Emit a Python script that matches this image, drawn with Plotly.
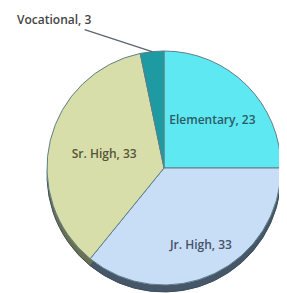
import math
import plotly.graph_objects as go

labels = ["Elementary", "Jr. High", "Sr. High", "Vocational"]
values = [23, 33, 33, 3]
colors = ["#5EE8F2", "#C8DDF6", "#D8DEAA", "#1E9BA2"]
rim_colors = ["#3A8C95", "#46576A", "#6B7050", "#14666B"]
text_colors = ["#2E5A66", "#45526A", "#55553A", "#444444"]
inside_text = ["Elementary, 23", "", "Sr. High, 33", ""]
jr_label = "Jr. High, 33"
outside_label = "Vocational, 3"

# page body has an 8px margin, so draw into a slightly smaller canvas
OFF = 8
W, H = 287 - OFF, 293 - OFF
cx, cy, R = 164 - OFF, 168 - OFF, 117
rim = 7

dom_x = [(cx - R) / W, (cx + R) / W]
dom_y = [(H - cy - R) / H, (H - cy + R) / H]
dom_y_rim = [(H - cy - rim - R) / H, (H - cy - rim + R) / H]

FONT = "Open Sans, DejaVu Sans, sans-serif"

fig = go.Figure()
fig.add_trace(go.Pie(
    labels=labels, values=values, sort=False, direction="clockwise", rotation=0,
    marker=dict(colors=rim_colors, line=dict(color="#3E4E58", width=1)),
    textinfo="none", hoverinfo="skip", showlegend=False,
    domain=dict(x=dom_x, y=dom_y_rim),
))
fig.add_trace(go.Pie(
    labels=labels, values=values, sort=False, direction="clockwise", rotation=0,
    marker=dict(colors=colors, line=dict(color="#5F7F86", width=1)),
    text=inside_text, textinfo="text", textposition="inside",
    insidetextorientation="horizontal",
    textfont=dict(family=FONT, size=12, weight=600, color=text_colors),
    showlegend=False,
    domain=dict(x=dom_x, y=dom_y),
))

total = sum(values)


def edge_point(idx, frac):
    a0 = sum(values[:idx]) / total * 360
    m = math.radians(a0 + values[idx] / total * 360 / 2)
    return cx + frac * R * math.sin(m), cy - frac * R * math.cos(m)


# Jr. High label placed lower in the slice, as in the original
jx, jy = edge_point(1, 0.72)
fig.add_annotation(
    x=jx / W, y=(H - jy) / H, xref="paper", yref="paper", showarrow=False,
    xanchor="center", yanchor="middle",
    text=jr_label, font=dict(family=FONT, size=12, weight=600, color=text_colors[1]),
)

# leader line to the Vocational slice
tx, ty = edge_point(3, 1.0)
fig.add_annotation(
    x=tx / W, y=(H - ty) / H, xref="paper", yref="paper",
    text=outside_label, showarrow=True, arrowhead=0, arrowwidth=1.3,
    arrowcolor="#5A6670", ax=-98, ay=-32,
    font=dict(family=FONT, size=12, weight=600, color=text_colors[3]),
)

fig.update_layout(
    width=W, height=H, margin=dict(l=0, r=0, t=0, b=0),
    paper_bgcolor="white", plot_bgcolor="white",
)
fig.write_html("out.html")
